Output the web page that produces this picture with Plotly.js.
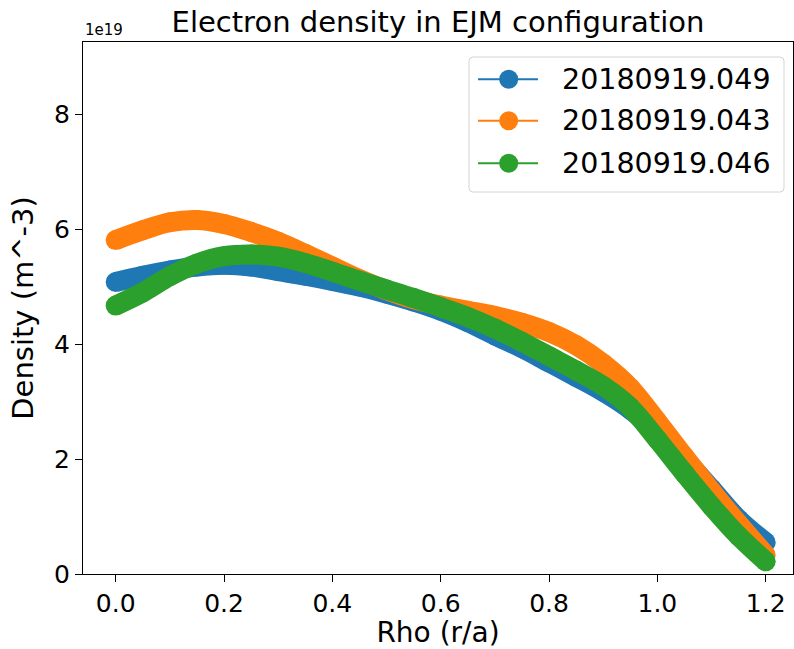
<!DOCTYPE html>
<html>
<head>
<meta charset="utf-8">
<script src="https://cdn.plot.ly/plotly-3.0.1.min.js"></script>
<style>html,body{margin:0;padding:0;background:#fff;}#chart{width:794px;height:649px;}</style>
</head>
<body>
<div id="chart"></div>
<script>
// Rho (r/a)
const rho = [0.00,0.05,0.10,0.15,0.20,0.25,0.30,0.35,0.40,0.45,0.50,0.55,0.60,0.65,0.70,0.75,0.80,0.85,0.90,0.95,1.00,1.05,1.10,1.15,1.20];
// Density (units of 1e19 m^-3)
const dens049 = [5.08,5.19,5.28,5.35,5.38,5.35,5.27,5.19,5.10,5.00,4.88,4.74,4.58,4.38,4.15,3.93,3.68,3.43,3.17,2.86,2.45,2.00,1.48,0.95,0.55];
const dens043 = [5.81,5.98,6.12,6.16,6.09,5.95,5.78,5.57,5.35,5.13,4.94,4.78,4.67,4.58,4.49,4.37,4.21,3.98,3.66,3.24,2.65,2.04,1.44,0.87,0.33];
const dens046 = [4.67,4.90,5.18,5.40,5.53,5.56,5.52,5.41,5.26,5.10,4.95,4.80,4.64,4.47,4.27,4.04,3.79,3.54,3.27,2.90,2.34,1.75,1.18,0.66,0.22];
const names = ['20180919.049','20180919.043','20180919.046'];
const colors = ['#1f77b4','#ff7f0e','#2ca02c'];
const series = [dens049, dens043, dens046];
const xTicks = [0.0,0.2,0.4,0.6,0.8,1.0,1.2];
const yTicks = [0,2,4,6,8];

const FONT = 'DejaVu Sans, sans-serif';
const W = 794, H = 649, ML = 83, MR = 1, MT = 42, MB = 75;
const PW = W - ML - MR, PH = H - MT - MB;
const px2x = p => (p - ML) / PW;
const px2y = p => (H - MB - p) / PH;

const traces = series.map((s, i) => ({
  x: rho, y: s, type: 'scatter', mode: 'lines+markers', name: names[i],
  line: {color: colors[i], width: 20, shape: 'spline', smoothing: 1},
  marker: {color: colors[i], size: 20},
  showlegend: false, hoverinfo: 'skip'
}));

// legend box drawn as shapes + annotations
const bx0 = 469, bx1 = 784, by0 = 57, by1 = 192, rr = 4;
const boxPath = () => {
  const X = px2x, Y = px2y;
  return `M ${X(bx0+rr)} ${Y(by0)} L ${X(bx1-rr)} ${Y(by0)} Q ${X(bx1)} ${Y(by0)} ${X(bx1)} ${Y(by0+rr)} ` +
         `L ${X(bx1)} ${Y(by1-rr)} Q ${X(bx1)} ${Y(by1)} ${X(bx1-rr)} ${Y(by1)} ` +
         `L ${X(bx0+rr)} ${Y(by1)} Q ${X(bx0)} ${Y(by1)} ${X(bx0)} ${Y(by1-rr)} ` +
         `L ${X(bx0)} ${Y(by0+rr)} Q ${X(bx0)} ${Y(by0)} ${X(bx0+rr)} ${Y(by0)} Z`;
};
const rowY = [79.3, 120.7, 163.3];
const shapes = [{
  type: 'path', xref: 'paper', yref: 'paper', path: boxPath(),
  fillcolor: 'rgba(255,255,255,0.8)', line: {color: '#d4d4d4', width: 1}, layer: 'above'
}];
const annotations = [{
  text: '1e19', xref: 'paper', yref: 'paper', x: 0, y: 1, xanchor: 'left', yanchor: 'bottom',
  showarrow: false, font: {family: FONT, size: 15, color: '#000'}, yshift: 1
}];
names.forEach((n, i) => {
  shapes.push({type: 'line', xref: 'paper', yref: 'paper', x0: px2x(478), x1: px2x(538), y0: px2y(rowY[i]), y1: px2y(rowY[i]),
               line: {color: colors[i], width: 2}, layer: 'above'});
  shapes.push({type: 'circle', xref: 'paper', yref: 'paper', xsizemode: 'pixel', ysizemode: 'pixel',
               xanchor: px2x(508.7), yanchor: px2y(rowY[i]), x0: -9.5, x1: 9.5, y0: -9.5, y1: 9.5,
               fillcolor: colors[i], line: {color: colors[i], width: 0}, layer: 'above'});
  annotations.push({text: n, xref: 'paper', yref: 'paper', x: px2x(560), y: px2y(rowY[i]),
                    xanchor: 'left', yanchor: 'middle', showarrow: false,
                    font: {family: FONT, size: 28.5, color: '#000'}});
});

const layout = {
  width: W, height: H,
  margin: {l: ML, r: MR, t: MT, b: MB},
  paper_bgcolor: '#fff', plot_bgcolor: '#fff',
  font: {family: FONT, color: '#000', size: 25},
  title: {text: 'Electron density in EJM configuration', font: {family: FONT, size: 29, color: '#000'},
          x: 0.5, xref: 'paper', y: 0.966, yref: 'container', yanchor: 'middle'},
  xaxis: {
    range: [-0.0603, 1.2504], tickvals: xTicks, ticktext: xTicks.map(v => v.toFixed(1)),
    showline: true, mirror: true, linecolor: '#000', linewidth: 1,
    ticks: 'outside', ticklen: 7, tickwidth: 1, tickcolor: '#000',
    showgrid: false, zeroline: false,
    tickfont: {family: FONT, size: 25, color: '#000'},
    title: {text: 'Rho (r/a)', font: {family: FONT, size: 28, color: '#000'}, standoff: 12}
  },
  yaxis: {
    range: [0, 9.256], tickvals: yTicks, ticktext: yTicks.map(String),
    showline: true, mirror: true, linecolor: '#000', linewidth: 1,
    ticks: 'outside', ticklen: 7, tickwidth: 1, tickcolor: '#000',
    showgrid: false, zeroline: false,
    tickfont: {family: FONT, size: 25, color: '#000'},
    title: {text: 'Density (m^-3)', font: {family: FONT, size: 29, color: '#000'}, standoff: 11}
  },
  shapes: shapes,
  annotations: annotations,
  showlegend: false
};
Plotly.newPlot('chart', traces, layout, {displayModeBar: false, staticPlot: true});
</script>
</body>
</html>
